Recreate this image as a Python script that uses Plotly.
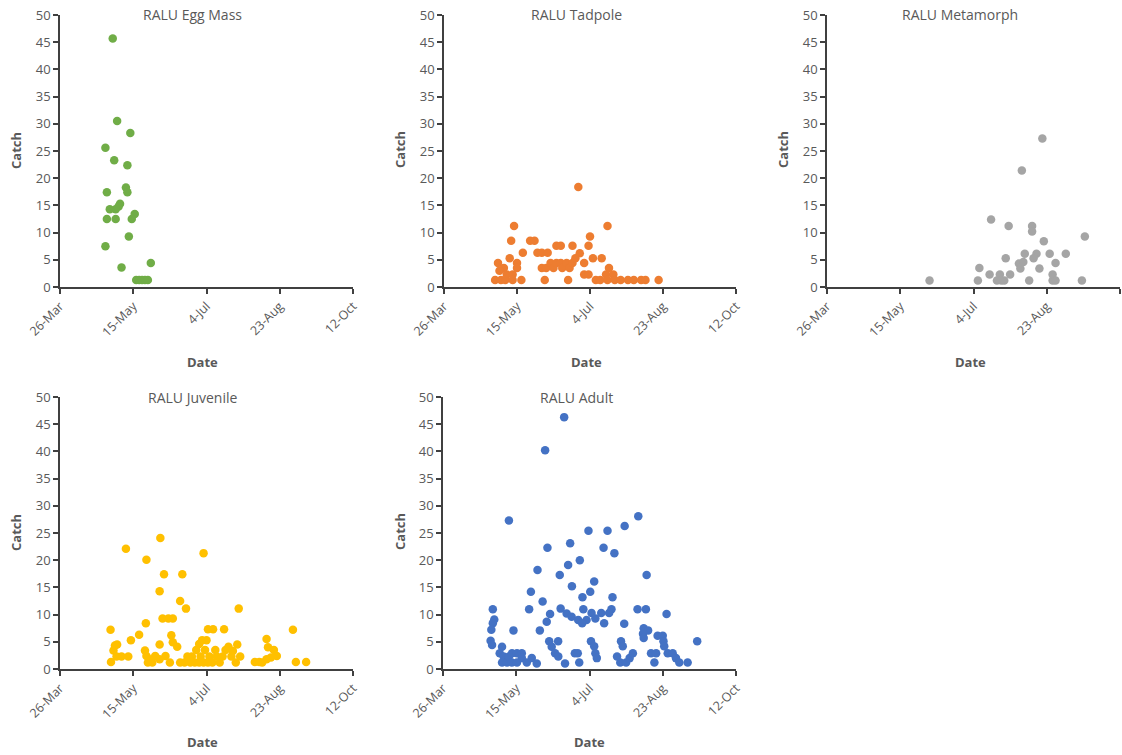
import plotly.graph_objects as go
from datetime import datetime, timedelta

# ---------------- data ----------------
START = datetime(2019, 3, 26)          # x-axis origin (26-Mar)
END = datetime(2019, 10, 12)           # x-axis end (12-Oct)
tick_dates = ["2019-03-26", "2019-05-15", "2019-07-04", "2019-08-23", "2019-10-12"]
tick_text = ["26-Mar", "15-May", "4-Jul", "23-Aug", "12-Oct"]
y_ticks = [0, 5, 10, 15, 20, 25, 30, 35, 40, 45, 50]

# days after 26-Mar, catch values
egg_day = [36, 39, 48, 31, 37, 46, 45, 46, 32, 41, 40, 38, 34, 51, 49, 32, 38, 47, 31, 42,
           62, 52, 54, 56, 58, 60]
egg_catch = [45.7, 30.5, 28.3, 25.6, 23.3, 22.4, 18.3, 17.4, 17.4, 15.3, 14.8, 14.3, 14.3, 13.4,
             12.5, 12.5, 12.5, 9.3, 7.5, 3.6, 4.4, 1.3, 1.3, 1.3, 1.3, 1.3]

tad_day = [92, 48, 112, 46, 59, 62, 100, 54, 64, 67, 71, 77, 80, 88, 99, 93, 102, 108, 37, 45,
           50, 96, 41, 50, 67, 70, 73, 75, 77, 80, 81, 84, 86, 88, 90, 96, 99, 111, 113, 116,
           43, 47, 38,
           35, 39, 42, 47, 53, 69, 85, 104, 107, 112, 117, 121, 126, 130, 135, 138, 147]
tad_catch = [18.4, 11.2, 11.2, 8.5, 8.5, 8.5, 9.3, 6.3, 6.3, 6.3, 6.3, 7.6, 7.6, 7.6, 7.6, 6.2,
             5.3, 5.3, 4.4, 5.3, 4.4, 4.4, 3.5, 3.5, 3.5, 3.5, 4.4, 3.5, 4.4, 4.4, 3.5, 4.4,
             3.5, 4.4, 5.3, 2.3, 2.3, 2.3, 3.5, 2.3, 2.3, 2.3, 3.0,
             1.3, 1.3, 1.3, 1.3, 1.3, 1.3, 1.3, 1.3, 1.3, 1.3, 1.3, 1.3, 1.3, 1.3, 1.3, 1.3, 1.3]

meta_day = [147, 133, 112, 124, 140, 140, 176, 148, 122, 135, 143, 152, 163, 141, 131, 134,
            156, 132, 145, 104, 111, 118, 125, 154, 70, 103, 116, 119, 121, 138, 154, 156, 174]
meta_catch = [27.3, 21.4, 12.4, 11.2, 11.2, 10.2, 9.3, 8.4, 5.3, 6.1, 6.1, 6.1, 6.1, 5.3, 4.3,
              4.6, 4.4, 3.4, 3.4, 3.5, 2.3, 2.3, 2.3, 2.3, 1.2, 1.2, 1.2, 1.2, 1.2, 1.2, 1.2,
              1.2, 1.2]

juv_day = [45, 59, 68.5, 98, 71, 83.5, 68, 82, 86, 122, 70, 74, 77, 58.6, 34.5, 101, 104.5, 112,
           159, 54, 48.4, 76, 77, 95, 97, 100, 68, 39, 37.5, 36.5, 38.6, 42, 46.6, 34.8,
           58, 59, 61, 60, 63, 65, 68, 72, 75, 80, 82, 85, 87, 89, 90, 92, 93, 95, 96, 98,
           99, 101, 102, 104, 106, 107, 109, 111, 113, 115, 117, 118, 121, 120, 123,
           133, 136, 138, 141, 141, 142, 144, 146, 148, 161, 168]
juv_catch = [22.1, 20.1, 24.1, 21.3, 17.4, 17.4, 14.3, 12.5, 11.1, 11.1, 9.3, 9.3, 9.3, 8.4, 7.2,
             7.3, 7.3, 7.3, 7.2, 6.3, 5.3, 6.2, 4.9, 4.6, 5.3, 5.3, 4.5, 4.5, 4.3, 3.4, 2.3, 2.3,
             2.3, 1.3,
             3.4, 2.4, 1.8, 1.2, 1.2, 2.4, 1.8, 2.4, 1.2, 4.1, 1.2, 1.2, 2.3, 1.2, 2.3, 1.2,
             3.5, 1.2, 2.3, 1.2, 3.5, 1.2, 2.3, 1.2, 3.5, 2.3, 1.2, 2.3, 3.5, 4.1, 2.3, 3.3,
             4.5, 1.2, 2.3,
             1.3, 1.3, 1.2, 1.8, 5.5, 4.0, 2.1, 3.5, 2.4, 1.3, 1.3]

adult_day = [82.7, 69.7, 45, 133.3, 124, 99.3, 112.3, 71.3, 86.8, 109.6, 117, 93.4, 85.4, 64.5,
             79.7, 139, 103.2, 88, 60, 100.5, 95.2, 115.7, 68, 58.8, 80.3, 84.4, 87.8, 92.3,
             95.8, 98, 101.4, 132.8, 138.5, 115, 113.4, 152.6, 73.1, 70.8, 123.7, 104, 108,
             110, 95,
             34, 35, 34, 33, 32.5, 33.5,
             48.1, 66.1, 137, 140, 136.5, 137, 146.5, 150, 173.5, 72.5, 78.6, 101, 103.2, 121.5,
             122.7, 150.5, 151,
             40.3, 38.7, 41.4, 40.3, 43.7, 45, 47.1, 50.5, 53.8, 53.8, 57.2, 60.6, 64, 47, 50.5,
             74.2, 76.5, 78.7, 83.3, 90, 92, 93, 104, 105, 118.8, 121, 125, 127.4, 129.6,
             142, 145.5, 144.3, 153.4, 156.8, 159, 161.3, 167]
adult_catch = [46.3, 40.2, 27.3, 28.1, 26.3, 25.4, 25.4, 22.3, 23.1, 22.3, 21.3, 20.0, 19.1, 18.2,
               17.3, 17.3, 16.1, 15.2, 14.2, 14.2, 13.2, 13.2, 12.4, 11.0, 11.1, 10.2, 9.6, 9.0,
               11.0, 9.0, 10.3, 11.0, 11.0, 11.0, 10.3, 10.1, 10.1, 8.7, 8.3, 9.3, 10.3,
               8.4, 8.4,
               11.0, 9.1, 8.4, 7.2, 5.2, 4.4,
               7.1, 7.1, 7.5, 7.1, 6.5, 5.7, 6.1, 6.1, 5.1, 5.1, 5.1, 5.1, 4.2, 5.1,
               4.2, 5.1, 4.2,
               4.1, 2.9, 2.3, 1.2, 1.2, 2.3, 2.9, 2.9, 2.9, 2.0, 1.2, 2.0, 1.0, 1.2, 1.2,
               4.1, 2.9, 2.3, 1.0, 2.9, 2.9, 1.2, 2.9, 2.0, 2.3, 1.2, 1.2, 2.0, 2.9,
               2.9, 2.9, 1.2, 2.9, 2.9, 2.0, 1.2, 1.2]

titles = ["RALU Egg Mass", "RALU Tadpole", "RALU Metamorph", "RALU Juvenile", "RALU Adult"]
colors = ["#70AD47", "#ED7D31", "#A5A5A5", "#FFC000", "#4472C4"]
series_days = [egg_day, tad_day, meta_day, juv_day, adult_day]
series_catch = [egg_catch, tad_catch, meta_catch, juv_catch, adult_catch]

# ---------------- layout geometry (pixels) ----------------
W, H = 1122, 755
px_x = [(60, 353), (444, 736), (827, 1120), (60, 353), (443, 736)]
px_y = [(15, 287), (15, 287), (15, 287), (397, 669), (397, 669)]
title_cx = [192, 576, 960, 192, 576]
catch_x = [16, 400, 783, 16, 400]
date_cx = [202, 586, 970, 202, 589]
date_y = [362, 362, 362, 742, 742]

FONT = "'Open Sans', Lato, sans-serif"
GRAY = "#595959"
AX = "#404040"


def to_dates(days):
    return [START + timedelta(days=d) for d in days]


fig = go.Figure()
annotations = []
layout = {}
for i in range(5):
    n = "" if i == 0 else str(i + 1)
    fig.add_trace(go.Scatter(
        x=to_dates(series_days[i]), y=series_catch[i], mode="markers",
        marker=dict(color=colors[i], size=8.5, line=dict(width=0)),
        xaxis="x" + n, yaxis="y" + n, showlegend=False, cliponaxis=False,
    ))
    x0, x1 = px_x[i]
    yt, yb = px_y[i]
    layout["xaxis" + n] = dict(
        domain=[x0 / W, x1 / W], anchor="y" + n, type="date", automargin=False,
        range=[START, END], tickvals=tick_dates, ticktext=tick_text, tickangle=-45,
        showline=True, linecolor=AX, linewidth=2, ticks="outside", ticklen=5,
        tickcolor=AX, tickwidth=1.5, showgrid=False, zeroline=False,
        tickfont=dict(family=FONT, size=12.5, color=GRAY),
    )
    layout["yaxis" + n] = dict(
        domain=[1 - yb / H, 1 - yt / H], anchor="x" + n, range=[0, 50], automargin=False,
        tickvals=y_ticks, showline=True, linecolor=AX, linewidth=1.5, ticks="outside",
        ticklen=5, tickcolor=AX, tickwidth=1.5, showgrid=False, zeroline=False,
        tickfont=dict(family=FONT, size=13, color=GRAY),
    )
    annotations.append(dict(
        text=titles[i], x=title_cx[i] / W, y=1 - yt / H, xref="paper", yref="paper",
        xanchor="center", yanchor="middle", showarrow=False,
        font=dict(family=FONT, size=14, color=GRAY)))
    annotations.append(dict(
        text="<b>Catch</b>", x=catch_x[i] / W, y=1 - ((yt + yb) / 2 - 1) / H,
        xref="paper", yref="paper", xanchor="center", yanchor="middle", textangle=-90,
        showarrow=False, font=dict(family=FONT, size=13, color=GRAY)))
    annotations.append(dict(
        text="<b>Date</b>", x=date_cx[i] / W, y=1 - date_y[i] / H,
        xref="paper", yref="paper", xanchor="center", yanchor="middle",
        showarrow=False, font=dict(family=FONT, size=13, color=GRAY)))

fig.update_layout(
    width=W, height=H, margin=dict(l=0, r=0, t=0, b=0),
    paper_bgcolor="white", plot_bgcolor="white",
    annotations=annotations, **layout,
)
fig.write_html("out.html", config={"displayModeBar": False})
